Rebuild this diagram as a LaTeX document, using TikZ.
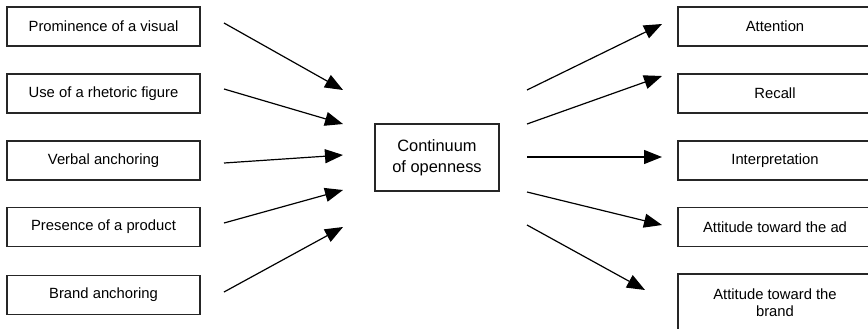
\documentclass[tikz,border=0pt]{standalone}
\usepackage{fontspec}
\setmainfont{Liberation Sans}
\usetikzlibrary{arrows.meta}
\begin{document}
\begin{tikzpicture}[x=0.5pt,y=-0.5pt]
	\tikzstyle{Node} = [rectangle, minimum width=96.5pt, minimum height=19.5pt, inner sep=0pt, text centered, draw=black!85, line width=0.6pt, font=\fontsize{7.4}{8.6}\selectfont]
	\tikzstyle{arrow} = [line width=0.6pt, -{Triangle[length=9pt, width=7pt]}]
	
	\clip (0,0) rectangle (868,328);
	
	% causes
	\node (visual) [Node] at (103.5,26.5) {Prominence of a visual};
	\node (rhetoric) [Node] at (103.5,93.5) {Use of a rhetoric figure};
	\node (verbal) [Node] at (103.5,160.5) {Verbal anchoring};
	\node (product) [Node] at (103.5,227) {Presence of a product};
	\node (brand) [Node] at (103.5,295) {Brand anchoring};
	
	% middle
	\node (cont) [Node, minimum width=62pt, minimum height=33.5pt, align=center, font=\fontsize{8.2}{10.4}\selectfont] at (437,157.5) {Continuum\\of openness};
	
	% effects
	\node (attention) [Node, minimum width=97pt] at (775,26.5) {Attention};
	\node (recall) [Node, minimum width=97pt] at (775,93.5) {Recall};
	\node (interp) [Node, minimum width=97pt] at (775,160.5) {Interpretation};
	\node (adatt) [Node, minimum width=97pt] at (775,227) {Attitude toward the ad};
	\node (brandatt) [Node, minimum width=97pt, minimum height=28.5pt, align=center] at (775,302.5) {Attitude toward the\\brand};
	
	% arrow ends
	\coordinate (visual-o) at (224,23);
	\coordinate (rhetoric-o) at (224,89);
	\coordinate (verbal-o) at (224,163);
	\coordinate (product-o) at (224,223);
	\coordinate (brand-o) at (224,292);
	\coordinate (cont-i1) at (343,90);
	\coordinate (cont-i2) at (343,124);
	\coordinate (cont-i3) at (343,155);
	\coordinate (cont-i4) at (343,190);
	\coordinate (cont-i5) at (343,227);
	\coordinate (cont-o1) at (527,90);
	\coordinate (cont-o2) at (527,124);
	\coordinate (cont-o3) at (527,157);
	\coordinate (cont-o4) at (527,192);
	\coordinate (cont-o5) at (527,225);
	\coordinate (attention-i) at (662,24);
	\coordinate (recall-i) at (662,76);
	\coordinate (interp-i) at (662,157);
	\coordinate (adatt-i) at (662,225);
	\coordinate (brandatt-i) at (645,290);
	
	\draw [arrow] (visual-o) -- (cont-i1);
	\draw [arrow] (rhetoric-o) -- (cont-i2);
	\draw [arrow] (verbal-o) -- (cont-i3);
	\draw [arrow] (product-o) -- (cont-i4);
	\draw [arrow] (brand-o) -- (cont-i5);
	
	\draw [arrow] (cont-o1) -- (attention-i);
	\draw [arrow] (cont-o2) -- (recall-i);
	\draw [arrow] (cont-o3) -- (interp-i);
	\draw [arrow] (cont-o4) -- (adatt-i);
	\draw [arrow] (cont-o5) -- (brandatt-i);
\end{tikzpicture}
\end{document}
